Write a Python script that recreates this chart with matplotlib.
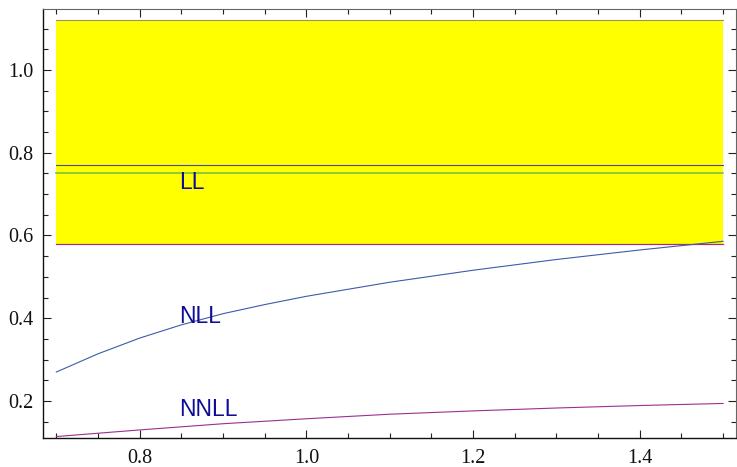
import numpy as np
import matplotlib
matplotlib.use("Agg")
from matplotlib import pyplot as plt
from matplotlib.ticker import MultipleLocator, FormatStrFormatter

plt.rcParams["font.family"] = ["Liberation Serif", "DejaVu Serif"]

# curve samples
x_nll = [0.7, 0.75, 0.8, 0.85, 0.9, 0.95, 1.0, 1.1, 1.2, 1.3, 1.4, 1.5]
nll = [0.270, 0.314, 0.352, 0.384, 0.411, 0.433, 0.453, 0.487, 0.516, 0.542, 0.565, 0.586]
x_nnll = [0.7, 0.75, 0.8, 0.9, 1.0, 1.1, 1.2, 1.3, 1.4, 1.5]
nnll = [0.114, 0.122, 0.130, 0.145, 0.157, 0.168, 0.176, 0.183, 0.189, 0.194]

# horizontal levels
band_low, band_high = 0.579, 1.121
ll_upper = 0.770
ll_level = 0.751

labels = ["LL", "NLL", "NNLL"]
label_y = [0.727, 0.404, 0.180]
label_x = 0.847

fig = plt.figure(figsize=(7.37, 4.67), dpi=100)
ax = fig.add_axes([43 / 737, 29 / 467, 693 / 737, 429 / 467])

ax.fill_between([0.7, 1.5], band_low, band_high, color="#ffff00", lw=0, zorder=1)
ax.plot([0.7, 1.5], [band_high, band_high], color="#9a9060", lw=0.8, zorder=2)
ax.plot([0.7, 1.5], [band_low, band_low], color="#a8307a", lw=0.9, zorder=2)
ax.plot([0.7, 1.5], [ll_upper, ll_upper], color="#4a4a8c", lw=0.8, zorder=2)
ax.plot([0.7, 1.5], [ll_level, ll_level], color="#7cc040", lw=1.2, zorder=2)

ax.plot(x_nll, nll, color="#3c5ca8", lw=0.8, zorder=3)
ax.plot(x_nnll, nnll, color="#9a3090", lw=0.8, zorder=3)

for lab, yy in zip(labels, label_y):
    ax.text(label_x, yy, lab, color="#0c0c98", fontsize=16.5,
            family=["Liberation Sans"], ha="left", va="center", zorder=4)

ax.set_xlim(0.684, 1.5155)
ax.set_ylim(0.1105, 1.1475)

ax.xaxis.set_major_locator(MultipleLocator(0.2))
ax.xaxis.set_minor_locator(MultipleLocator(0.05))
ax.yaxis.set_major_locator(MultipleLocator(0.2))
ax.yaxis.set_minor_locator(MultipleLocator(0.05))
ax.xaxis.set_major_formatter(FormatStrFormatter("%.1f"))
ax.yaxis.set_major_formatter(FormatStrFormatter("%.1f"))
ax.tick_params(which="both", direction="in", top=True, right=True,
               width=0.8, color="#222222")
ax.tick_params(which="major", length=6, labelsize=14.5, labelcolor="#111111")
ax.tick_params(axis="x", which="major", pad=8)
ax.tick_params(axis="y", which="major", pad=7)
ax.tick_params(which="minor", length=3.5)

for side in ["left", "bottom"]:
    ax.spines[side].set_linewidth(1.0)
    ax.spines[side].set_color("#111111")
for side in ["top", "right"]:
    ax.spines[side].set_linewidth(0.8)
    ax.spines[side].set_color("#666666")

fig.savefig("out.png", dpi=100)
